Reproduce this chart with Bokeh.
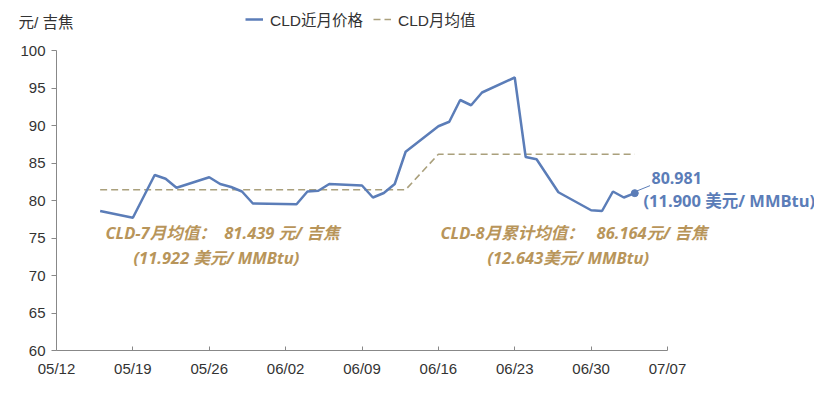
from datetime import datetime, timedelta
from bokeh.plotting import figure
from bokeh.models import (ColumnDataSource, Range1d, FixedTicker, DatetimeTickFormatter,
                          Label, Legend, LegendItem)
from bokeh.embed import file_html
from bokeh.resources import INLINE

# ---------------- data ----------------
dates = ["2025-05-16", "2025-05-19", "2025-05-21", "2025-05-22", "2025-05-23",
         "2025-05-26", "2025-05-27", "2025-05-28", "2025-05-29", "2025-05-30",
         "2025-06-03", "2025-06-04", "2025-06-05", "2025-06-06", "2025-06-09",
         "2025-06-10", "2025-06-11", "2025-06-12", "2025-06-13", "2025-06-16",
         "2025-06-17", "2025-06-18", "2025-06-19", "2025-06-20", "2025-06-23",
         "2025-06-24", "2025-06-25", "2025-06-26", "2025-06-27", "2025-06-30",
         "2025-07-01", "2025-07-02", "2025-07-03", "2025-07-04"]
prices = [78.6, 77.7, 83.4, 82.9, 81.7,
          83.1, 82.2, 81.8, 81.2, 79.6,
          79.5, 81.2, 81.3, 82.2, 82.0,
          80.4, 81.0, 82.2, 86.5, 89.9,
          90.5, 93.4, 92.7, 94.4, 96.4,
          85.8, 85.5, 83.3, 81.1, 78.7,
          78.6, 81.2, 80.4, 80.981]
jul_avg = 81.439
aug_avg = 86.164
aug_start = "2025-06-16"
monthly_avg = [jul_avg if d < aug_start else aug_avg for d in dates]

tick_dates = ["2025-05-12", "2025-05-19", "2025-05-26", "2025-06-02", "2025-06-09",
              "2025-06-16", "2025-06-23", "2025-06-30", "2025-07-07"]
y_ticks = [60, 65, 70, 75, 80, 85, 90, 95, 100]

series_names = ["CLD近月价格", "CLD月均值"]
y_title = "元/ 吉焦"
note_jul = ["CLD-7月均值：\u00a0\u00a081.439 元/ 吉焦", "(11.922 美元/ MMBtu)"]
note_aug = ["CLD-8月累计均值：\u00a0\u00a0\u00a086.164元/ 吉焦", "(12.643美元/ MMBtu)"]
note_last = ["80.981", "(11.900 美元/ MMBtu)"]

# ---------------- styling / layout ----------------
BLUE = "#5b7db8"
DASH = "#aaa07c"
GOLD = "#b8955a"
FONT = "Liberation Sans, Noto Sans CJK SC"
NOTE_FONT = "Open Sans, Noto Sans CJK SC"

W, H = 814, 378
# pixel geometry of the axes inside the figure
AX_LEFT, AX_RIGHT = 56, 667     # x of first / last date tick
AX_TOP, AX_BOTTOM = 50, 350     # y of 100 / 60

EPOCH = datetime(1970, 1, 1)
def ms(t):
    return (t - EPOCH).total_seconds() * 1000.0

x = [datetime.strptime(d, "%Y-%m-%d") for d in dates]
tx = [datetime.strptime(d, "%Y-%m-%d") for d in tick_dates]
src = ColumnDataSource(dict(x=x, price=prices, avg=monthly_avg))

span_days = (tx[-1] - tx[0]).days
px_day = (AX_RIGHT - AX_LEFT) / span_days
px_unit = (AX_BOTTOM - AX_TOP) / (y_ticks[-1] - y_ticks[0])
x_start = tx[0] - timedelta(days=AX_LEFT / px_day)
x_end = tx[-1] + timedelta(days=(W - AX_RIGHT) / px_day)
y_start = y_ticks[0] - (H - AX_BOTTOM) / px_unit
y_end = y_ticks[-1] + AX_TOP / px_unit

p = figure(width=W, height=H, output_backend="svg", toolbar_location=None,
           x_axis_type="datetime",
           x_range=Range1d(ms(x_start), ms(x_end)), y_range=Range1d(y_start, y_end),
           min_border_left=0, min_border_right=0, min_border_top=0, min_border_bottom=0)
p.title.visible = False
p.outline_line_color = None
p.grid.visible = False
p.background_fill_color = "white"
p.border_fill_color = "white"

r_avg = p.line("x", "avg", source=src, line_color=DASH, line_width=1.6, line_dash="7 4")
r_price = p.line("x", "price", source=src, line_color=BLUE, line_width=2.5)
last_src = ColumnDataSource(dict(x=[x[-1]], y=[prices[-1]]))
p.scatter("x", "y", source=last_src, size=7, color=BLUE)
# leader line from last point to its label
p.segment(x0=[x[-1] + timedelta(hours=5)], y0=[prices[-1] + 0.3],
          x1=[x[-1] + timedelta(days=1.4)], y1=[prices[-1] + 1.0],
          line_color=BLUE, line_width=1)

# axes (drawn at fixed positions inside the frame)
p.xaxis.fixed_location = y_ticks[0]
p.yaxis.fixed_location = ms(tx[0])
p.xaxis.bounds = (ms(tx[0]), ms(tx[-1]))
p.yaxis.bounds = (y_ticks[0], y_ticks[-1])
p.xaxis.ticker = FixedTicker(ticks=[ms(t) for t in tx])
p.xaxis.formatter = DatetimeTickFormatter(days="%m/%d", months="%m/%d")
p.yaxis.ticker = FixedTicker(ticks=y_ticks)
for ax in (p.xaxis[0], p.yaxis[0]):
    ax.axis_line_color = "#888888"
    ax.major_tick_line_color = "#888888"
    ax.minor_tick_line_color = None
    ax.major_label_text_font = FONT
    ax.major_label_text_font_size = "15px"
    ax.major_label_text_color = "#333333"
p.xaxis.major_tick_in = 4
p.xaxis.major_tick_out = 0
p.xaxis.major_label_standoff = 9
p.yaxis.major_tick_in = 0
p.yaxis.major_tick_out = 5
p.yaxis.major_label_standoff = 6

# legend
legend = Legend(items=[LegendItem(label=series_names[0], renderers=[r_price]),
                       LegendItem(label=series_names[1], renderers=[r_avg])],
                orientation="horizontal", location=(245, 348),
                padding=0, margin=0, spacing=10, glyph_width=18, glyph_height=16,
                label_standoff=7, label_text_font=FONT, label_text_font_size="15.5px",
                label_text_color="#333333", border_line_color=None,
                background_fill_alpha=0)
p.add_layout(legend, "center")

def lab(text, px, py, color, size="15px", style="normal", font=FONT):
    # px, py: position of the text's left / vertical middle, from the figure's top-left
    p.add_layout(Label(x=px, y=H - py, x_units="screen", y_units="screen", text=text,
                       text_color=color, text_font=font, text_font_size=size,
                       text_font_style=style, text_baseline="middle", text_align="left"))

lab(y_title, 18, 22, "#333333", "15.5px")
lab(note_jul[0], 105, 232, GOLD, "16.5px", "bold italic", NOTE_FONT)
lab(note_jul[1], 133, 257, GOLD, "16.5px", "bold italic", NOTE_FONT)
lab(note_aug[0], 440, 232, GOLD, "16.5px", "bold italic", NOTE_FONT)
lab(note_aug[1], 487, 257, GOLD, "16.5px", "bold italic", NOTE_FONT)
lab(note_last[0], 651, 177, BLUE, "16px", "bold", NOTE_FONT)
lab(note_last[1], 643, 200, BLUE, "16.5px", "bold", NOTE_FONT)

open("out.html", "w").write(file_html(p, INLINE))
